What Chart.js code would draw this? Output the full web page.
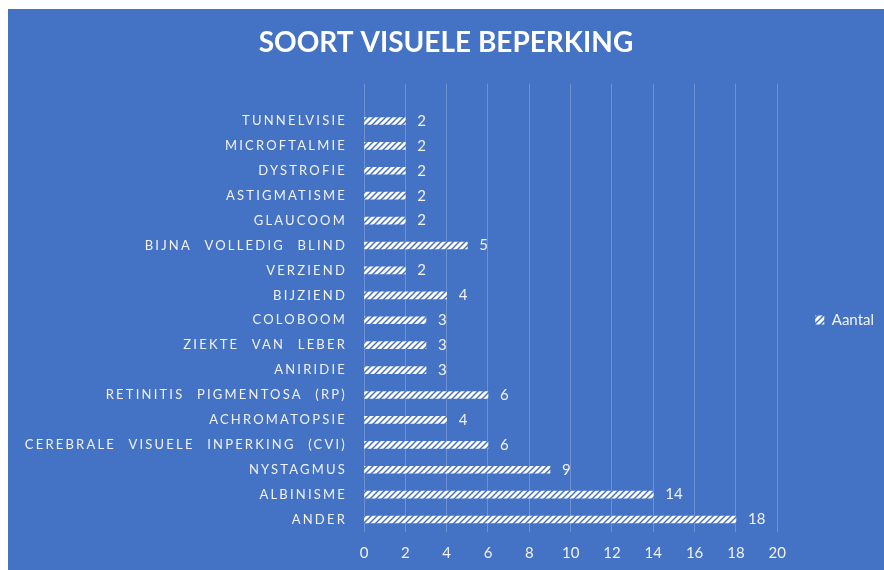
<!DOCTYPE html>
<html>
<head>
<meta charset="utf-8">
<title>Soort visuele beperking</title>
<script src="https://cdn.jsdelivr.net/npm/chart.js@4/dist/chart.umd.min.js"></script>
<style>
  html, body { margin: 0; padding: 0; background: #ffffff; }
  #panel { position: absolute; left: 8px; top: 9px; width: 876px; height: 561px; background: #4472C4; }
  #c { display: block; }
</style>
</head>
<body>
<div id="panel"><canvas id="c" width="876" height="561"></canvas></div>
<script>
// Categories listed from the bottom of the axis upwards; the last slot is an empty row at the top.
const categories = [
  'ANDER', 'ALBINISME', 'NYSTAGMUS', 'CEREBRALE VISUELE INPERKING (CVI)', 'ACHROMATOPSIE',
  'RETINITIS PIGMENTOSA (RP)', 'ANIRIDIE', 'ZIEKTE VAN LEBER', 'COLOBOOM', 'BIJZIEND',
  'VERZIEND', 'BIJNA VOLLEDIG BLIND', 'GLAUCOOM', 'ASTIGMATISME', 'DYSTROFIE',
  'MICROFTALMIE', 'TUNNELVISIE', ''
];
const aantal = [18, 14, 9, 6, 4, 6, 3, 3, 3, 4, 2, 5, 2, 2, 2, 2, 2, null];
const seriesName = 'Aantal';
const xTicks = [0, 2, 4, 6, 8, 10, 12, 14, 16, 18, 20];
const chartTitle = 'SOORT VISUELE BEPERKING';

const BLUE = '#4472C4';
const TEXT = '#F2F2F2';
const FONT = 'Lato, "Open Sans", sans-serif';

// Wide upward diagonal hatch: white with thin blue slashes.
function makeHatch(ctx) {
  const t = document.createElement('canvas');
  t.width = 6; t.height = 6;
  const g = t.getContext('2d');
  g.fillStyle = '#FFFFFF';
  g.fillRect(0, 0, 6, 6);
  g.strokeStyle = BLUE;
  g.lineWidth = 1.5;
  g.beginPath();
  g.moveTo(0, 6); g.lineTo(6, 0);
  g.moveTo(-3, 3); g.lineTo(3, -3);
  g.moveTo(3, 9); g.lineTo(9, 3);
  g.stroke();
  return ctx.createPattern(t, 'repeat');
}

// Value printed just past the end of each bar.
const valueLabels = {
  id: 'valueLabels',
  afterDatasetsDraw(chart) {
    const ctx = chart.ctx;
    chart.data.datasets.forEach((ds, i) => {
      chart.getDatasetMeta(i).data.forEach((bar, j) => {
        const v = ds.data[j];
        if (v === null || v === undefined) return;
        ctx.save();
        ctx.font = '15px ' + FONT;
        ctx.fillStyle = TEXT;
        ctx.textAlign = 'left';
        ctx.textBaseline = 'middle';
        ctx.fillText(String(v), bar.x + 12, bar.y);
        ctx.restore();
      });
    });
  }
};

function draw() {
  const canvas = document.getElementById('c');
  const ctx = canvas.getContext('2d');
  const hatch = makeHatch(ctx);

  new Chart(canvas, {
    type: 'bar',
    data: {
      labels: categories,
      datasets: [{
        label: seriesName,
        data: aantal,
        backgroundColor: hatch,
        borderWidth: 0,
        barThickness: 7
      }]
    },
    options: {
      indexAxis: 'y',
      responsive: false,
      animation: false,
      devicePixelRatio: 1,
      layout: { padding: { left: 0, right: 0, top: 0, bottom: 0 } },
      scales: {
        x: {
          min: 0,
          max: 20,
          afterBuildTicks(scale) { scale.ticks = xTicks.map(v => ({ value: v })); },
          afterFit(scale) { scale.height = 38; },
          ticks: { color: TEXT, font: { family: FONT, size: 15 }, padding: 12 },
          grid: { color: 'rgba(255,255,255,0.22)', lineWidth: 1, drawTicks: false },
          border: { display: false }
        },
        y: {
          reverse: true,
          afterFit(scale) {
            scale.width = 356;
            if (!scale._spacedLabels) {
              const base = scale.drawLabels;
              // Category names are drawn with extra tracking between letters and words.
              scale.drawLabels = function (area) {
                const c = this.ctx;
                const ls = c.letterSpacing, ws = c.wordSpacing;
                c.letterSpacing = '2.2px';
                c.wordSpacing = '7px';
                base.call(this, area);
                c.letterSpacing = ls;
                c.wordSpacing = ws;
              };
              scale._spacedLabels = true;
            }
          },
          ticks: { color: TEXT, font: { family: FONT, size: 13 }, padding: 17, autoSkip: false },
          grid: { display: false, drawTicks: false },
          border: { display: false }
        }
      },
      plugins: {
        title: {
          display: true,
          text: chartTitle,
          color: '#FFFFFF',
          font: { family: FONT, size: 28, weight: 'bold' },
          padding: { top: 17, bottom: 24 }
        },
        legend: {
          position: 'right',
          maxWidth: 107,
          title: { display: true, text: ' ', font: { size: 10 }, padding: 24.5 },
          labels: {
            color: TEXT,
            font: { family: FONT, size: 15 },
            boxWidth: 9,
            boxHeight: 9,
            padding: 38
          }
        },
        tooltip: { enabled: false }
      }
    },
    plugins: [valueLabels]
  });
}

const fontLoads = [
  document.fonts.load('15px Lato'),
  document.fonts.load('bold 28px Lato')
];
Promise.all(fontLoads).then(draw, draw);
</script>
</body>
</html>
